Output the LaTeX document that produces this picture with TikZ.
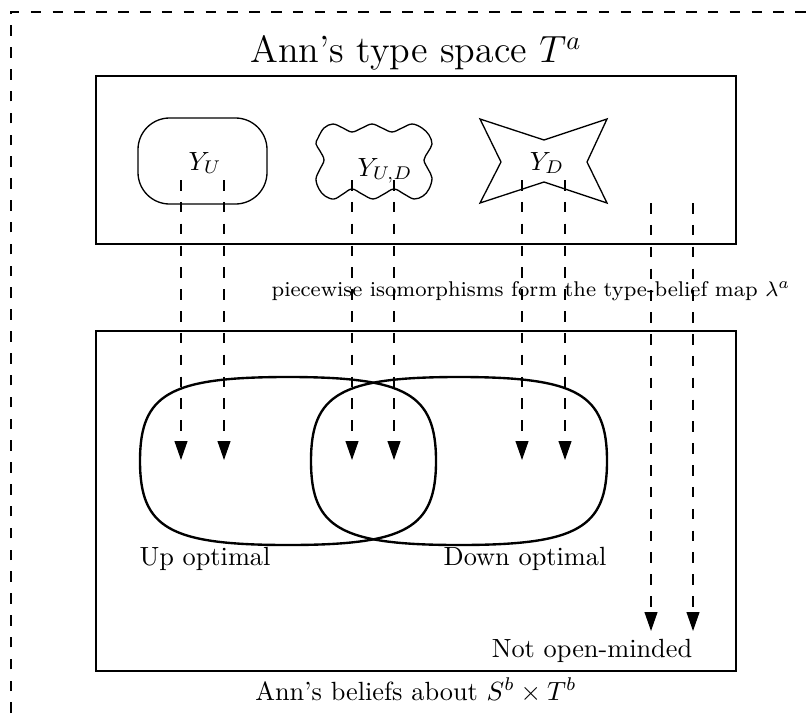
\documentclass[tikz,border=0pt]{standalone}
\usetikzlibrary{arrows.meta}
\begin{document}
\begin{tikzpicture}[x=0.38pt,y=-0.38pt,
  box/.style={draw, line width=0.4pt},
  thinshape/.style={draw, line width=0.5pt},
  setshape/.style={draw, line width=0.9pt},
  maparrow/.style={dash pattern=on 4pt off 4.3pt, line width=0.45pt, -{Triangle[length=7.2pt,width=4.9pt]}},
  frame/.style={dash pattern=on 4pt off 4.3pt, line width=0.4pt},
  lbl/.style={inner sep=0pt, anchor=base}]
\useasboundingbox (0,0) rectangle (811,713);
% outer dashed frame
\coordinate (fbl) at (11,713);
\coordinate (ftl) at (11,12);
\coordinate (ftr) at (811,12);
\draw[frame] (fbl) -- (ftl) -- (ftr);
% boxes
\node[box, minimum width=640*0.38pt, minimum height=168*0.38pt, inner sep=0pt] (typebox) at (416,160) {};
\node[box, minimum width=640*0.38pt, minimum height=340*0.38pt, inner sep=0pt] (beliefbox) at (416,501) {};
% texts
\node[lbl] (title) at (416,63) {\Large Ann's type space $T^a$};
\node[lbl] (pw) at (531,296) {\fontsize{8.1}{10}\selectfont piecewise isomorphisms form the type-belief map $\lambda^a$};
\node[lbl] (belief) at (416,700) {Ann's beliefs about $S^b\times T^b$};
\node[lbl] (up) at (205,565) {Up optimal};
\node[lbl] (down) at (525,565) {Down optimal};
\node[lbl] (nom) at (592,657) {Not open-minded};
% type sets
\draw[thinshape, rounded corners=12pt] (138,118) rectangle (267,204);
\node[lbl] (yu) at (205,170) {$Y_U$};
\draw[thinshape] plot[smooth cycle, tension=0.6] coordinates {
 (318,138) (324,128) (333,124) (343,128) (352,132) (362,128) (372,124) (382,128)
 (392,132) (402,128) (412,124) (422,128) (429,135) (432,144) (428,152) (424,160)
 (428,169) (432,178) (429,189) (423,196) (414,199) (404,194) (394,189) (384,194)
 (373,199) (362,194) (352,189) (343,194) (334,199) (325,196) (319,189) (316,179)
 (320,169) (324,160) (320,151) (316,144)};
\node[lbl] (yud) at (385,176) {$Y_{U,D}$};
\draw[thinshape] (480,119) -- (544,140) -- (607,119) -- (587,162) -- (607,203) -- (544,182) -- (480,203) -- (501,162) -- cycle;
\node[lbl] (yd) at (547,170) {$Y_D$};
% belief sets
\draw[setshape] (140,461) .. controls (140,393.8) and (169.6,377) .. (288,377)
  .. controls (406.4,377) and (436,393.8) .. (436,461)
  .. controls (436,528.2) and (406.4,545) .. (288,545)
  .. controls (169.6,545) and (140,528.2) .. (140,461) -- cycle;
\draw[setshape] (311,461) .. controls (311,393.8) and (340.6,377) .. (459,377)
  .. controls (577.4,377) and (607,393.8) .. (607,461)
  .. controls (607,528.2) and (577.4,545) .. (459,545)
  .. controls (340.6,545) and (311,528.2) .. (311,461) -- cycle;
% arrows
\foreach \x/\n in {181/a, 224/b, 352/c, 394/d, 522/e, 565/f} {
  \coordinate (s\n) at (\x,180);
  \coordinate (e\n) at (\x,460);
  \draw[maparrow] (s\n) -- (e\n);
}
\foreach \x/\n in {651/g, 693/h} {
  \coordinate (s\n) at (\x,203);
  \coordinate (e\n) at (\x,631);
  \draw[maparrow] (s\n) -- (e\n);
}
\end{tikzpicture}
\end{document}
